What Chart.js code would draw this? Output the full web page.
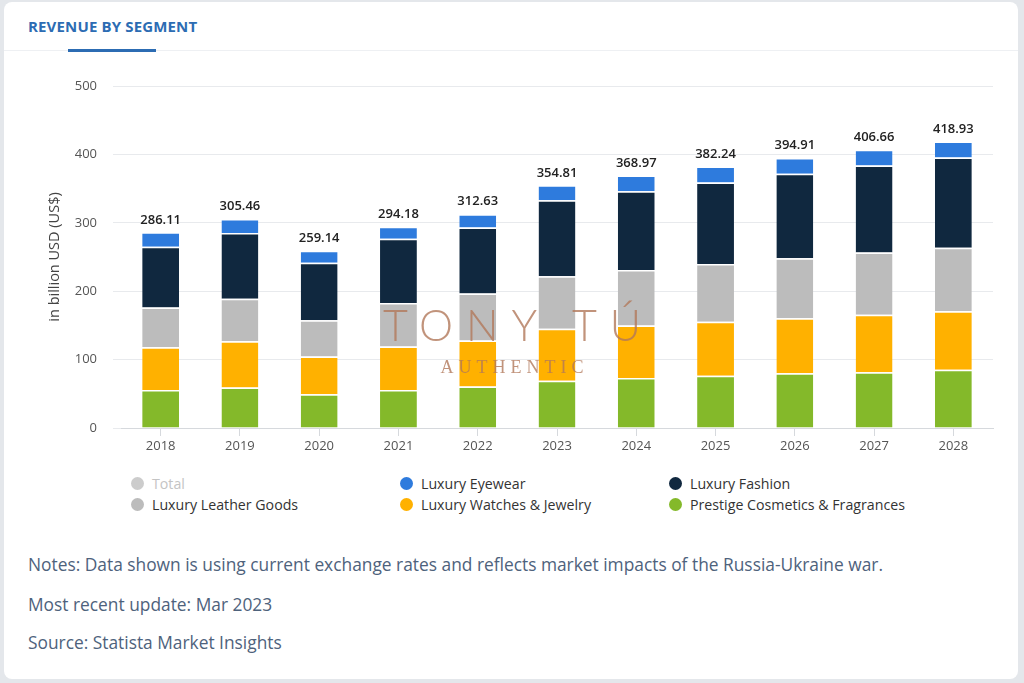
<!DOCTYPE html>
<html><head><meta charset="utf-8">
<script src="https://cdn.jsdelivr.net/npm/chart.js@4"></script>
<style>
html,body{margin:0;padding:0;}
body{width:1024px;height:683px;background:#e4e7eb;position:relative;overflow:hidden;font-family:"Open Sans",sans-serif;}
#card{position:absolute;left:4px;top:2px;width:1014px;height:677px;background:#fff;border-radius:8px;}
#title{position:absolute;left:28px;top:16px;font-size:15px;font-weight:700;color:#2c6cb3;letter-spacing:0.15px;}
#sep{position:absolute;left:4px;top:50px;width:1014px;height:1px;background:#eef0f3;}
#uline{position:absolute;left:68px;top:49px;width:88px;height:3px;background:#2c6cb3;}
#wrap{position:absolute;left:0;top:60px;width:1024px;height:400px;}
#legend{position:absolute;left:0;top:472px;width:1024px;height:44px;font-size:14.2px;color:#333;}
.li{position:absolute;display:flex;align-items:center;height:20px;}
.dot{width:13px;height:13px;border-radius:50%;margin-right:8px;}
.notes{position:absolute;left:28px;font-size:17.35px;color:#4e627c;white-space:nowrap;}
#wm1{position:absolute;left:0;width:1024px;top:299px;text-align:center;font-family:"Lato",sans-serif;font-weight:300;font-size:43px;letter-spacing:13px;color:rgba(178,120,90,0.8);padding-left:13px;box-sizing:border-box;}
#wm2{position:absolute;left:0;width:1024px;top:357px;text-align:center;font-family:"Liberation Serif",serif;font-size:18px;letter-spacing:5px;color:rgba(178,120,90,0.8);padding-left:5px;box-sizing:border-box;}
</style></head>
<body>
<div id="card"></div>
<div id="sep"></div>
<div id="title">REVENUE BY SEGMENT</div>
<div id="uline"></div>
<div id="wrap"><canvas id="c"></canvas></div>
<div id="legend"></div>
<div class="notes" style="top:552px">Notes: Data shown is using current exchange rates and reflects market impacts of the Russia-Ukraine war.</div>
<div class="notes" style="top:592px">Most recent update: Mar 2023</div>
<div class="notes" style="top:630px">Source: Statista Market Insights</div>
<div id="wm1">TONY TÚ</div>
<div id="wm2">AUTHENTIC</div>
<script>
const years = ["2018","2019","2020","2021","2022","2023","2024","2025","2026","2027","2028"];
const cosmetics = [55.5, 59.3, 49.5, 55.4, 60.8, 69.0, 73.0, 76.5, 79.9, 81.4, 85.3];
const watches   = [62.6, 67.7, 54.9, 63.6, 67.2, 76.0, 77.0, 78.9, 80.4, 84.3, 85.3];
const leather   = [58.0, 62.0, 53.0, 63.8, 68.6, 77.0, 81.0, 84.3, 87.7, 90.7, 93.1];
const fashion   = [89.0, 96.0, 84.3, 93.7, 96.4, 111.0, 115.0, 119.3, 123.6, 127.4, 131.9];
const eyewear   = [21.0, 20.5, 17.4, 17.7, 19.6, 21.8, 23.0, 23.2, 23.3, 22.9, 23.3];
const totals    = [286.11, 305.46, 259.14, 294.18, 312.63, 354.81, 368.97, 382.24, 394.91, 406.66, 418.93];
const yTicks = [0, 100, 200, 300, 400, 500];

const colors = {
  cosmetics:"#84b92a", watches:"#ffb100", leather:"#bcbcbc", fashion:"#10283f", eyewear:"#2e7bdd", total:"#cccccc"
};

function ds(label, data, color){
  return {label, data, backgroundColor:color, borderColor:"#ffffff",
    borderWidth:{top:1.5,bottom:0,left:0,right:0}, borderSkipped:false,
    barPercentage:0.93, categoryPercentage:0.5};
}

const totalLabels = {
  id:"totalLabels",
  afterDatasetsDraw(chart){
    const ctx = chart.ctx;
    const xs = chart.scales.x, ys = chart.scales.y;
    ctx.save();
    ctx.font = "600 13px 'Open Sans'";
    ctx.fillStyle = "#222";
    ctx.textAlign = "center";
    ctx.textBaseline = "bottom";
    totals.forEach((t,i)=>{
      ctx.fillText(t.toFixed(2), xs.getPixelForValue(i), ys.getPixelForValue(t) - 6);
    });
    ctx.restore();
  }
};

new Chart(document.getElementById("c"), {
  type:"bar",
  data:{labels:years, datasets:[
    ds("Prestige Cosmetics & Fragrances", cosmetics, colors.cosmetics),
    ds("Luxury Watches & Jewelry", watches, colors.watches),
    ds("Luxury Leather Goods", leather, colors.leather),
    ds("Luxury Fashion", fashion, colors.fashion),
    ds("Luxury Eyewear", eyewear, colors.eyewear)
  ]},
  options:{
    responsive:true, maintainAspectRatio:false, animation:false,
    layout:{padding:{top:26,right:31,left:46,bottom:0}},
    plugins:{legend:{display:false}, tooltip:{enabled:false}},
    scales:{
      x:{stacked:true,
        grid:{display:true, drawOnChartArea:false, drawTicks:true, tickLength:8, offset:false, color:"#d6d9dd"},
        border:{display:true,color:"#d6d9dd"},
        ticks:{color:"#555", font:{family:"Open Sans", size:13}, padding:2},
        afterFit(s){ s.height = 32; }
      },
      y:{stacked:true, min:0, max:500,
        afterBuildTicks(s){ s.ticks = yTicks.map(v=>({value:v})); },
        grid:{color:"#e8eaed", drawTicks:true, tickLength:8},
        border:{display:false},
        ticks:{color:"#555", font:{family:"Open Sans", size:13}, padding:16},
        title:{display:true, text:"in billion USD (US$)", color:"#444", font:{family:"Open Sans", size:14.5}, padding:{top:0,bottom:0}},
        afterFit(s){ s.width = 75; }
      }
    }
  },
  plugins:[totalLabels]
});

const legendItems = [
  {label:"Total", color:colors.total, text:"#c4c4c4", col:0, row:0},
  {label:"Luxury Eyewear", color:colors.eyewear, col:1, row:0},
  {label:"Luxury Fashion", color:colors.fashion, col:2, row:0},
  {label:"Luxury Leather Goods", color:colors.leather, col:0, row:1},
  {label:"Luxury Watches & Jewelry", color:colors.watches, col:1, row:1},
  {label:"Prestige Cosmetics & Fragrances", color:colors.cosmetics, col:2, row:1}
];
const colX = [131, 400, 669];
const lg = document.getElementById("legend");
legendItems.forEach(it=>{
  const d = document.createElement("div");
  d.className = "li";
  d.style.left = colX[it.col] + "px";
  d.style.top = (it.row*21 + 1) + "px";
  d.innerHTML = '<span class="dot" style="background:'+it.color+'"></span><span style="color:'+(it.text||"#333")+'">'+it.label+'</span>';
  lg.appendChild(d);
});
</script>
</body></html>
